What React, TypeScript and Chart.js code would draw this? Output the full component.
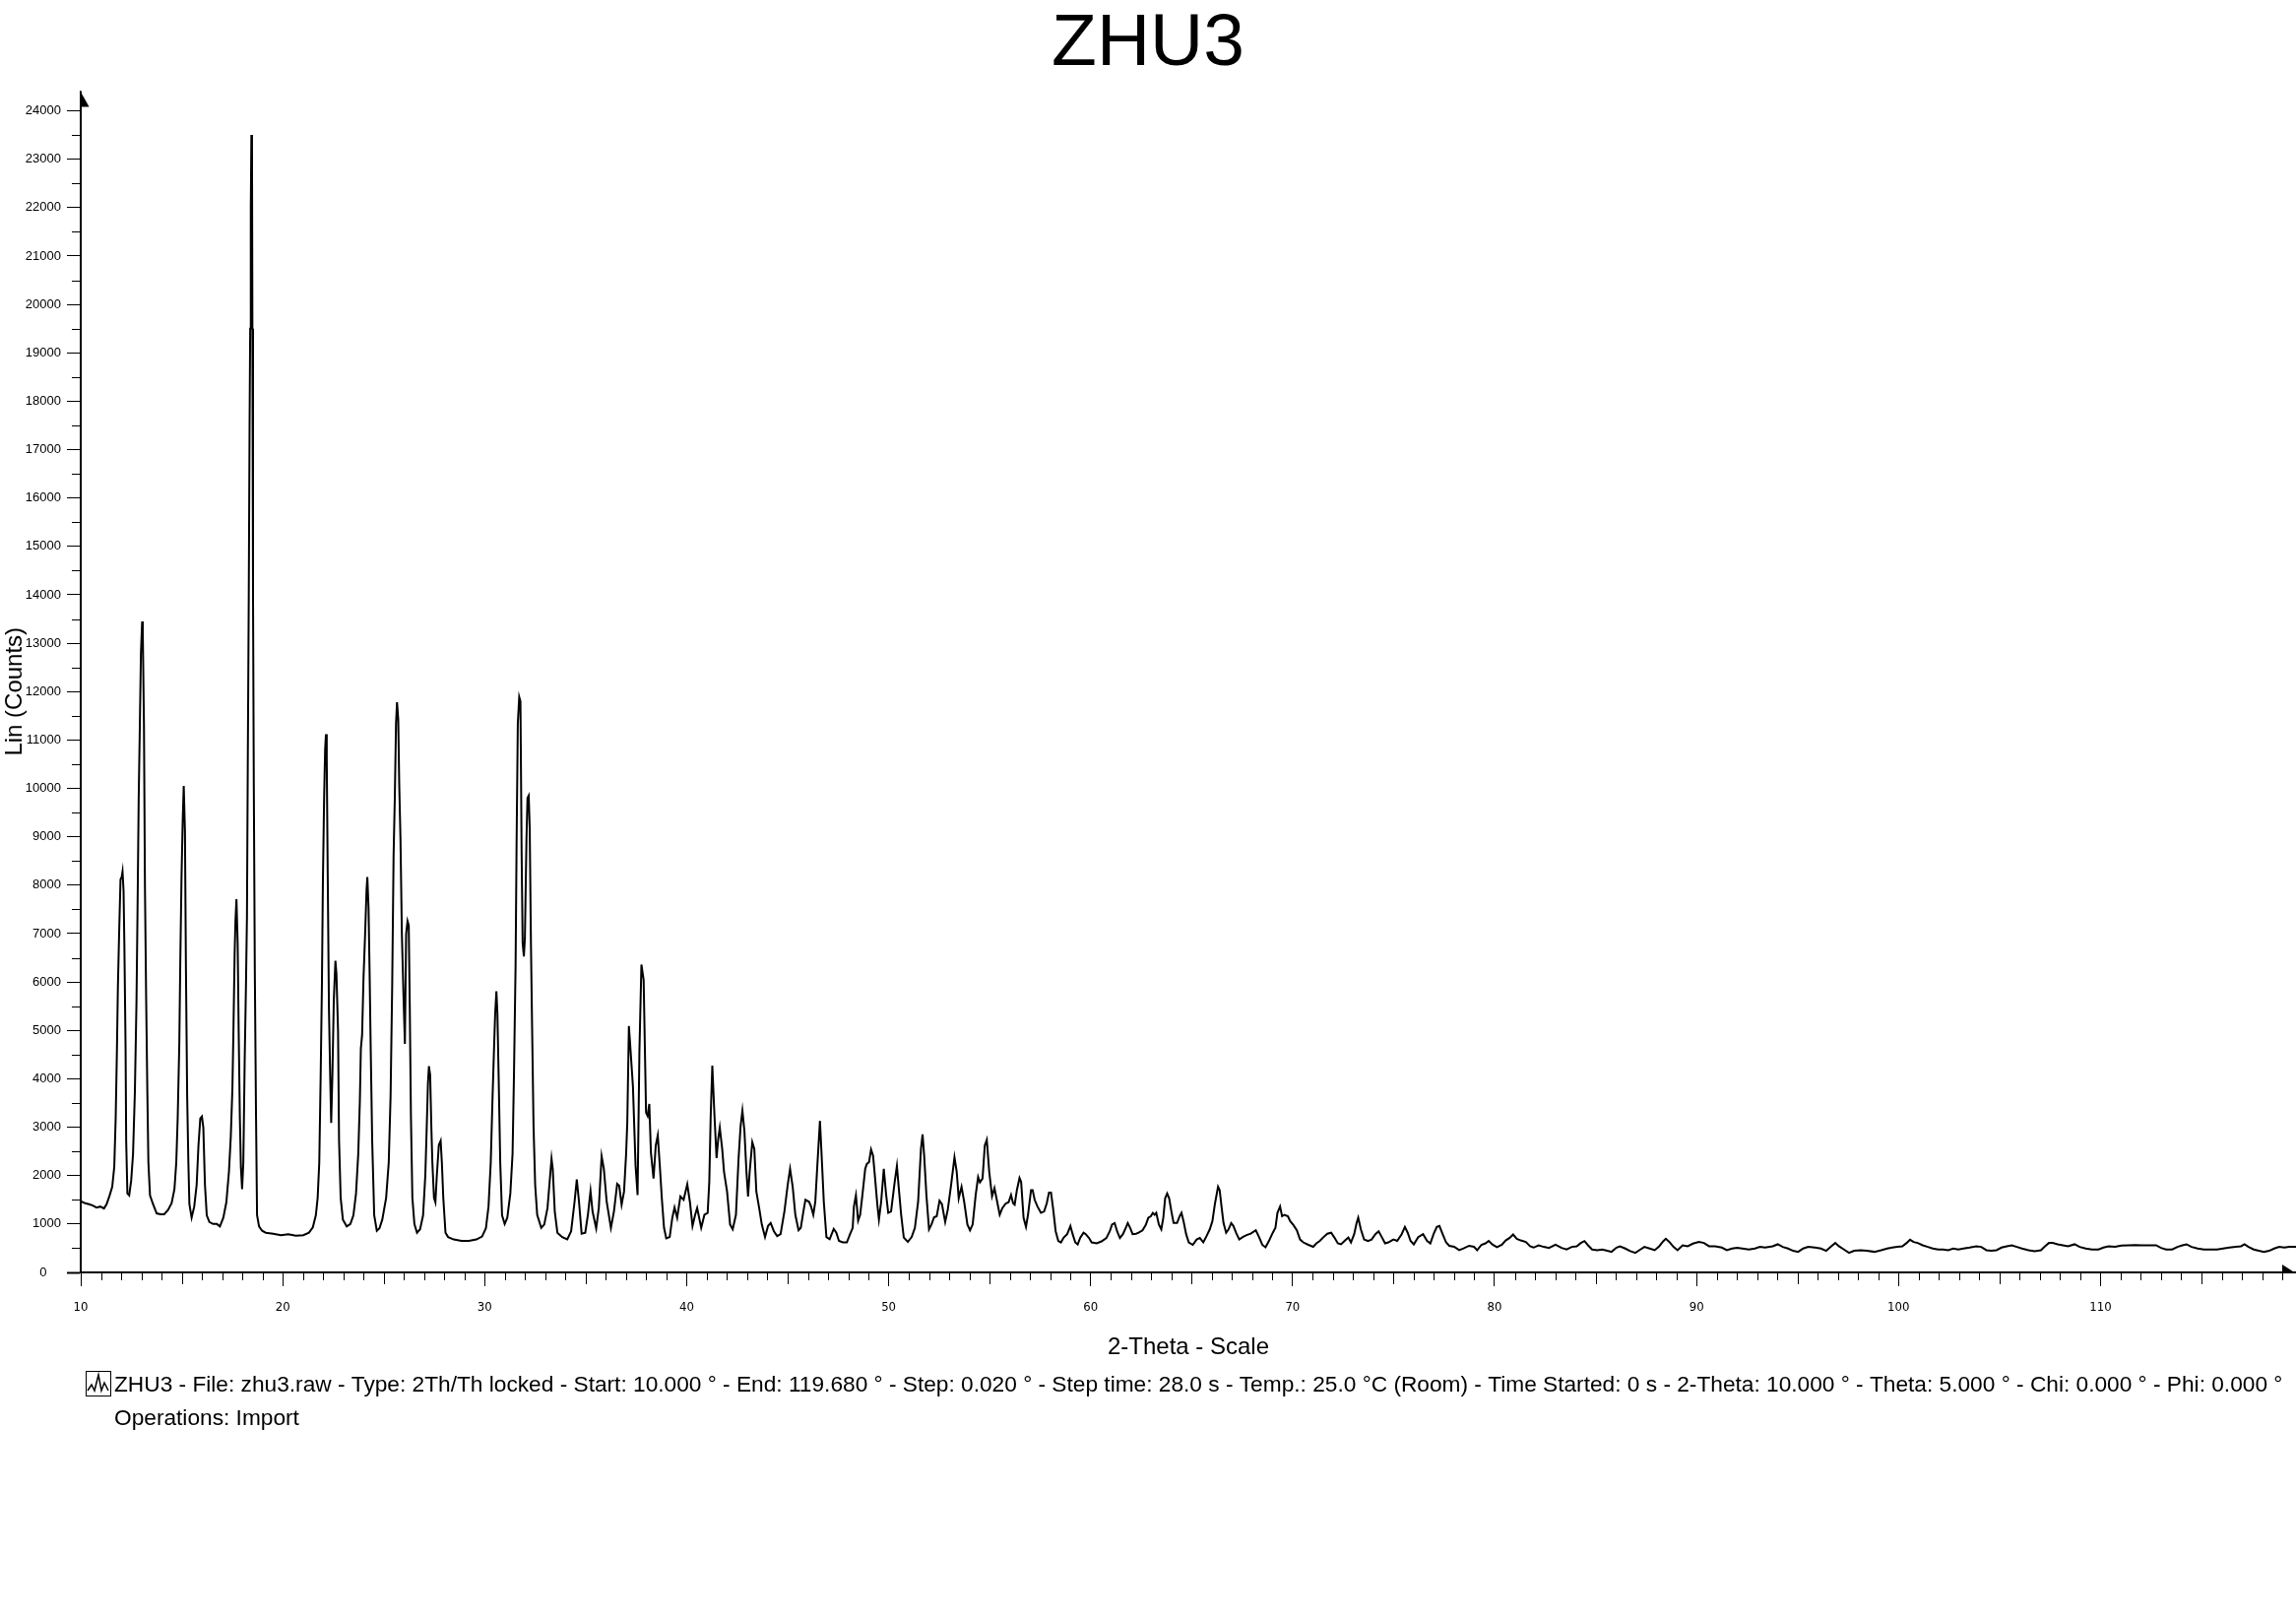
import React, { useEffect, useRef } from 'react';
import { Chart, registerables } from 'chart.js';

Chart.register(...registerables);

// ---------- text ----------
const titleText = 'ZHU3';
const xTitle = '2-Theta - Scale';
const yTitle = 'Lin (Counts)';
const legendLine1 =
  'ZHU3 - File: zhu3.raw - Type: 2Th/Th locked - Start: 10.000 ° - End: 119.680 ° - Step: 0.020 ° - Step time: 28.0 s - Temp.: 25.0 °C (Room) - Time Started: 0 s - 2-Theta: 10.000 ° - Theta: 5.000 ° - Chi: 0.000 ° - Phi: 0.000 °';
const legendLine2 = 'Operations: Import';

// ---------- axes ----------
const xMin = 10;
const xMax = 119.68;
const xMajorStep = 10;
const xMidStep = 5;
const xMinorStep = 1;
const yMin = 0;
const yMax = 24000;
const yMajorStep = 1000;
const yMinorStep = 500;

// ---------- data (2-theta in degrees, counts) ----------
const twoTheta = [
  10.0, 10.09, 10.22, 10.41, 10.6, 10.78, 10.97, 11.15, 11.28, 11.43, 11.56, 11.66, 11.73, 11.79, 11.84, 11.9, 11.97, 12.03, 12.07, 12.12,
  12.16, 12.22, 12.25, 12.31, 12.4, 12.5, 12.59, 12.68, 12.76, 12.81, 12.87, 12.92, 12.98, 13.04, 13.07, 13.13, 13.18, 13.24, 13.3, 13.35,
  13.43, 13.58, 13.76, 13.95, 14.13, 14.32, 14.5, 14.64, 14.73, 14.8, 14.88, 14.93, 14.99, 15.05, 15.1, 15.16, 15.21, 15.27, 15.33, 15.38,
  15.49, 15.62, 15.74, 15.83, 15.92, 16.0, 16.07, 16.15, 16.24, 16.37, 16.55, 16.74, 16.89, 17.06, 17.21, 17.34, 17.43, 17.51, 17.56, 17.62,
  17.66, 17.71, 17.77, 17.82, 17.88, 17.93, 17.99, 18.05, 18.12, 18.18, 18.23, 18.27, 18.32, 18.36, 18.39, 18.42, 18.45, 18.48, 18.5, 18.53,
  18.57, 18.62, 18.68, 18.73, 18.83, 18.98, 19.16, 19.53, 19.91, 20.28, 20.65, 21.02, 21.3, 21.49, 21.64, 21.73, 21.81, 21.88, 21.94, 21.99,
  22.05, 22.1, 22.14, 22.18, 22.23, 22.29, 22.35, 22.4, 22.46, 22.53, 22.61, 22.66, 22.74, 22.79, 22.87, 22.98, 23.17, 23.35, 23.5, 23.63,
  23.74, 23.82, 23.87, 23.93, 24.0, 24.08, 24.15, 24.19, 24.25, 24.3, 24.36, 24.43, 24.53, 24.66, 24.79, 24.93, 25.12, 25.25, 25.34, 25.42,
  25.49, 25.55, 25.61, 25.66, 25.72, 25.77, 25.83, 25.9, 25.98, 26.05, 26.11, 26.18, 26.24, 26.29, 26.35, 26.42, 26.52, 26.65, 26.8, 26.95,
  27.06, 27.13, 27.19, 27.24, 27.3, 27.36, 27.41, 27.49, 27.56, 27.63, 27.73, 27.82, 27.88, 27.95, 28.06, 28.19, 28.47, 28.85, 29.22, 29.59,
  29.87, 30.06, 30.19, 30.3, 30.39, 30.47, 30.52, 30.58, 30.63, 30.69, 30.77, 30.86, 30.99, 31.12, 31.27, 31.38, 31.45, 31.53, 31.58, 31.64,
  31.71, 31.77, 31.83, 31.88, 31.94, 31.99, 32.07, 32.12, 32.18, 32.23, 32.29, 32.35, 32.42, 32.5, 32.6, 32.8, 32.95, 33.11, 33.31, 33.37,
  33.47, 33.6, 33.84, 34.09, 34.28, 34.45, 34.56, 34.67, 34.8, 34.98, 35.11, 35.24, 35.34, 35.52, 35.65, 35.79, 35.9, 36.04, 36.25, 36.4,
  36.56, 36.66, 36.78, 36.9, 37.0, 37.06, 37.14, 37.19, 37.34, 37.47, 37.57, 37.66, 37.76, 37.87, 37.99, 38.07, 38.15, 38.23, 38.36, 38.47,
  38.57, 38.67, 38.77, 38.88, 38.99, 39.16, 39.29, 39.4, 39.53, 39.69, 39.85, 40.03, 40.16, 40.29, 40.42, 40.52, 40.72, 40.88, 41.04, 41.12,
  41.19, 41.27, 41.37, 41.48, 41.56, 41.64, 41.76, 41.85, 42.0, 42.15, 42.28, 42.44, 42.57, 42.67, 42.76, 42.86, 42.96, 43.04, 43.12, 43.25,
  43.35, 43.45, 43.59, 43.72, 43.88, 44.03, 44.16, 44.32, 44.48, 44.65, 44.84, 45.0, 45.12, 45.25, 45.38, 45.54, 45.65, 45.78, 45.88, 46.06,
  46.16, 46.27, 46.37, 46.47, 46.6, 46.69, 46.79, 46.92, 47.08, 47.28, 47.41, 47.54, 47.73, 47.93, 48.09, 48.22, 48.28, 48.38, 48.49, 48.59,
  48.71, 48.84, 48.92, 49.03, 49.13, 49.23, 49.33, 49.44, 49.52, 49.63, 49.76, 49.87, 49.98, 50.12, 50.3, 50.41, 50.49, 50.62, 50.75, 50.95,
  51.14, 51.3, 51.46, 51.6, 51.68, 51.76, 51.87, 52.0, 52.12, 52.25, 52.38, 52.52, 52.64, 52.8, 52.93, 53.09, 53.26, 53.37, 53.47, 53.61,
  53.74, 53.9, 54.03, 54.16, 54.31, 54.43, 54.52, 54.65, 54.76, 54.86, 54.98, 55.12, 55.24, 55.34, 55.5, 55.63, 55.79, 55.94, 56.06, 56.16,
  56.24, 56.35, 56.48, 56.56, 56.68, 56.8, 56.9, 57.05, 57.13, 57.23, 57.37, 57.54, 57.7, 57.83, 57.94, 58.04, 58.14, 58.27, 58.4, 58.53,
  58.67, 58.84, 59.0, 59.11, 59.24, 59.36, 59.49, 59.65, 59.76, 59.92, 60.05, 60.3, 60.54, 60.78, 60.95, 61.06, 61.19, 61.32, 61.45, 61.6,
  61.73, 61.84, 61.97, 62.08, 62.25, 62.38, 62.57, 62.73, 62.86, 62.98, 63.08, 63.17, 63.25, 63.38, 63.5, 63.6, 63.69, 63.79, 63.89, 64.0,
  64.11, 64.28, 64.41, 64.5, 64.6, 64.73, 64.86, 65.06, 65.25, 65.41, 65.58, 65.74, 65.9, 66.03, 66.16, 66.31, 66.39, 66.49, 66.58, 66.71,
  66.83, 66.96, 67.07, 67.2, 67.36, 67.53, 67.72, 67.93, 68.18, 68.34, 68.5, 68.66, 68.83, 69.02, 69.15, 69.25, 69.38, 69.48, 69.6, 69.77,
  69.88, 70.04, 70.21, 70.37, 70.53, 70.78, 71.02, 71.18, 71.35, 71.51, 71.72, 71.91, 72.07, 72.24, 72.4, 72.6, 72.76, 72.89, 73.05, 73.17,
  73.25, 73.38, 73.54, 73.73, 73.91, 74.1, 74.26, 74.39, 74.58, 74.74, 74.99, 75.18, 75.4, 75.56, 75.7, 75.84, 76.0, 76.22, 76.46, 76.66,
  76.82, 76.98, 77.14, 77.27, 77.43, 77.6, 77.76, 78.0, 78.25, 78.49, 78.74, 78.98, 79.14, 79.35, 79.55, 79.71, 79.91, 80.12, 80.36, 80.55,
  80.75, 80.92, 81.1, 81.3, 81.55, 81.76, 81.93, 82.18, 82.44, 82.69, 83.02, 83.32, 83.57, 83.82, 84.07, 84.27, 84.45, 84.63, 84.83, 85.08,
  85.33, 85.58, 85.79, 86.04, 86.21, 86.47, 86.72, 86.97, 87.22, 87.42, 87.68, 87.93, 88.15, 88.36, 88.48, 88.66, 88.86, 89.06, 89.31, 89.56,
  89.82, 90.12, 90.37, 90.62, 90.92, 91.25, 91.5, 91.76, 92.01, 92.26, 92.59, 92.89, 93.14, 93.39, 93.77, 94.02, 94.27, 94.53, 94.78, 95.03,
  95.28, 95.53, 95.86, 96.16, 96.42, 96.67, 96.87, 97.05, 97.3, 97.55, 97.8, 98.13, 98.43, 98.81, 99.14, 99.44, 99.69, 99.94, 100.19, 100.4,
  100.57, 100.75, 100.95, 101.2, 101.45, 101.7, 101.96, 102.21, 102.46, 102.71, 102.96, 103.22, 103.52, 103.85, 104.1, 104.35, 104.6, 104.85, 105.1, 105.36,
  105.61, 105.86, 106.11, 106.44, 106.74, 107.05, 107.25, 107.45, 107.63, 107.88, 108.14, 108.39, 108.72, 108.97, 109.27, 109.58, 109.9, 110.15, 110.4, 110.72,
  111.03, 111.4, 111.73, 112.04, 112.42, 112.75, 113.0, 113.25, 113.55, 113.81, 114.06, 114.26, 114.51, 114.81, 115.12, 115.44, 115.77, 116.07, 116.38, 116.7,
  116.96, 117.13, 117.33, 117.59, 117.84, 118.09, 118.35, 118.6, 118.85, 119.1, 119.35, 119.68,
];

const counts = [
  1480, 1450, 1430, 1410, 1380, 1340, 1360, 1320, 1410, 1590, 1770, 2180, 3180, 4540, 5900, 6990, 8120, 8170, 8280, 7890,
  6800, 4670, 2720, 1630, 1590, 1910, 2450, 3720, 5580, 7400, 9800, 11120, 12790, 13450, 13300, 11340, 7940, 5630, 3670, 2270,
  1590, 1410, 1220, 1200, 1200, 1290, 1430, 1720, 2270, 3180, 4720, 6440, 8170, 9350, 10050, 9120, 6220, 3630, 2270, 1410,
  1130, 1360, 1810, 2630, 3180, 3220, 2990, 1810, 1180, 1040, 1000, 1000, 950, 1130, 1450, 2090, 2810, 3810, 4990, 6580,
  7260, 7710, 6800, 4990, 3180, 2180, 1720, 2270, 4450, 5900, 7350, 10440, 14000, 17500, 19500, 22000, 23500, 23200, 19500, 14000,
  10000, 6170, 3180, 1180, 950, 860, 820, 800, 770, 790, 760, 770, 820, 930, 1180, 1540, 2270, 4080, 5900, 8080,
  9800, 10800, 11120, 10620, 8170, 5440, 4080, 3090, 4080, 5630, 6440, 6170, 4990, 2720, 1540, 1090, 950, 1000, 1180, 1630,
  2450, 3540, 4630, 4900, 6080, 6990, 7890, 8170, 7530, 6260, 4540, 2720, 1180, 860, 910, 1090, 1540, 2270, 3630, 5900,
  8620, 9800, 11340, 11780, 11430, 10070, 8980, 6990, 5720, 4720, 6990, 7260, 7170, 5540, 3180, 1540, 1000, 820, 890, 1180,
  2000, 2990, 3900, 4260, 4080, 2990, 2270, 1540, 1450, 2000, 2630, 2720, 2270, 1540, 820, 730, 680, 650, 650, 680,
  740, 910, 1360, 2270, 3630, 4720, 5350, 5810, 5350, 4080, 2270, 1180, 1000, 1130, 1630, 2450, 4080, 6350, 8890, 11340,
  11890, 11800, 8620, 6800, 6530, 6900, 8980, 9800, 9850, 9170, 6800, 5000, 3000, 1800, 1190, 920, 990, 1330, 2350, 2140,
  1260, 820, 730, 685, 850, 1460, 1920, 1460, 800, 820, 1190, 1680, 1260, 910, 1330, 2400, 2140, 1460, 920, 1260,
  1830, 1790, 1400, 1670, 2430, 3090, 5090, 4790, 3840, 2210, 1600, 4550, 6360, 6040, 3300, 3230, 3480, 2480, 1940, 2620,
  2830, 2210, 1530, 920, 705, 730, 1130, 1340, 1130, 1570, 1500, 1820, 1460, 960, 1190, 1330, 920, 1190, 1230, 1870,
  3230, 4270, 3300, 2360, 2750, 2990, 2550, 2080, 1670, 990, 890, 1190, 2350, 3020, 3340, 2920, 2080, 1570, 2080, 2690,
  2550, 1670, 1330, 990, 730, 960, 1020, 850, 750, 790, 1260, 1800, 2140, 1770, 1190, 870, 920, 1260, 1500, 1460,
  1360, 1190, 1460, 2210, 3130, 2350, 1460, 730, 685, 900, 820, 650, 620, 620, 790, 920, 1360, 1590, 1070, 1190,
  1630, 2140, 2240, 2280, 2540, 2410, 1940, 1400, 1090, 1460, 2140, 1630, 1230, 1260, 1870, 2200, 1800, 1190, 720, 630,
  730, 920, 1460, 2550, 2850, 2410, 1600, 890, 990, 1140, 1160, 1480, 1410, 1040, 1300, 1800, 2380, 2080, 1530, 1770,
  1460, 990, 870, 990, 1600, 1970, 1860, 1940, 2620, 2740, 2080, 1570, 1740, 1530, 1190, 1330, 1420, 1450, 1600, 1430,
  1400, 1700, 1950, 1870, 1130, 940, 1190, 1700, 1700, 1500, 1360, 1230, 1260, 1430, 1650, 1650, 1330, 850, 650, 620,
  720, 790, 960, 790, 620, 580, 720, 820, 790, 710, 620, 600, 640, 710, 850, 990, 1020, 840, 710, 790,
  910, 1020, 910, 790, 800, 820, 870, 980, 1130, 1160, 1230, 1190, 1230, 990, 890, 1130, 1530, 1630, 1530, 1260,
  1020, 1020, 1160, 1230, 1060, 790, 620, 570, 680, 710, 620, 750, 890, 1060, 1430, 1770, 1700, 1330, 1020, 820,
  890, 1020, 960, 820, 680, 730, 770, 800, 870, 730, 570, 520, 650, 820, 920, 1230, 1360, 1160, 1190, 1160,
  1060, 980, 870, 680, 620, 570, 530, 600, 650, 720, 800, 820, 720, 600, 580, 660, 720, 620, 790, 1020,
  1130, 890, 680, 650, 680, 790, 850, 750, 600, 620, 680, 650, 790, 940, 820, 650, 580, 730, 790, 650,
  600, 790, 940, 960, 790, 620, 550, 530, 460, 500, 550, 530, 460, 570, 600, 650, 570, 520, 570, 660,
  715, 783, 695, 660, 628, 540, 513, 560, 527, 506, 574, 506, 473, 527, 540, 608, 648, 560, 473, 459,
  473, 446, 425, 513, 540, 493, 439, 405, 473, 527, 493, 459, 540, 648, 695, 628, 527, 459, 560, 540,
  594, 628, 608, 540, 540, 513, 459, 493, 506, 493, 473, 493, 527, 513, 540, 581, 527, 493, 446, 425,
  493, 527, 513, 493, 446, 540, 608, 540, 473, 405, 446, 459, 446, 425, 459, 493, 513, 527, 540, 608,
  675, 628, 608, 560, 527, 493, 473, 473, 459, 493, 473, 493, 513, 540, 527, 459, 446, 459, 513, 540,
  560, 527, 493, 459, 439, 459, 540, 608, 608, 581, 560, 540, 581, 527, 493, 473, 473, 513, 540, 527,
  554, 560, 567, 560, 560, 560, 506, 473, 473, 527, 560, 581, 527, 493, 473, 473, 473, 493, 513, 527,
  540, 581, 527, 473, 446, 425, 446, 493, 527, 513, 527, 527,
];

const FONT = "'Liberation Sans', Arial, Helvetica, sans-serif";
const NARROW = "'Liberation Sans Narrow', 'DejaVu Sans Condensed', 'Liberation Sans', sans-serif";

const decorPlugin = {
  id: 'decor',
  afterDraw(chart: any) {
    const { ctx, chartArea: ca, scales } = chart;
    const xs = scales.x;
    const ys = scales.y;
    ctx.save();
    ctx.strokeStyle = '#000';
    ctx.fillStyle = '#000';
    ctx.lineWidth = 1;
    ctx.beginPath();
    // x minor / mid ticks
    for (let v = xMin + xMinorStep; v <= xMax; v += xMinorStep) {
      const r = Math.round(v);
      if (r % xMajorStep === 0) continue;
      const px = Math.round(xs.getPixelForValue(r)) + 0.5;
      const len = r % xMidStep === 0 ? 12 : 8;
      ctx.moveTo(px, ca.bottom);
      ctx.lineTo(px, ca.bottom + len);
    }
    // y minor ticks
    for (let v = yMinorStep; v < yMax; v += yMajorStep) {
      const py = Math.round(ys.getPixelForValue(v)) + 0.5;
      ctx.moveTo(ca.left - 9, py);
      ctx.lineTo(ca.left, py);
    }
    ctx.stroke();

    // y axis extension + arrow
    ctx.lineWidth = 2;
    ctx.beginPath();
    ctx.moveTo(ca.left, ca.top);
    ctx.lineTo(ca.left, ca.top - 20);
    ctx.stroke();
    ctx.beginPath();
    ctx.moveTo(ca.left - 1, ca.top - 21);
    ctx.lineTo(ca.left + 8.5, ca.top - 4);
    ctx.lineTo(ca.left - 1, ca.top - 4);
    ctx.closePath();
    ctx.fill();

    // x axis arrow
    ctx.beginPath();
    ctx.moveTo(ca.right - 14, ca.bottom - 8);
    ctx.lineTo(ca.right, ca.bottom + 1);
    ctx.lineTo(ca.right - 14, ca.bottom + 1);
    ctx.closePath();
    ctx.fill();

    // legend icon
    const ix = 87;
    const iy = 1392;
    const isz = 25;
    ctx.lineWidth = 1;
    ctx.strokeRect(ix + 0.5, iy + 0.5, isz, isz);
    ctx.lineWidth = 1.5;
    ctx.beginPath();
    ctx.moveTo(ix + 2, iy + 20);
    ctx.lineTo(ix + 6, iy + 14);
    ctx.lineTo(ix + 9, iy + 20);
    ctx.lineTo(ix + 13, iy + 4);
    ctx.lineTo(ix + 16, iy + 20);
    ctx.lineTo(ix + 19, iy + 12);
    ctx.lineTo(ix + 23, iy + 20);
    ctx.stroke();

    // legend text
    ctx.textBaseline = 'middle';
    ctx.textAlign = 'left';
    ctx.font = `22.7px ${FONT}`;
    ctx.fillText(legendLine1, 116, 1407);
    ctx.fillText(legendLine2, 116, 1441);
    ctx.restore();
  },
};

export default function App() {
  const canvasRef = useRef<HTMLCanvasElement | null>(null);

  useEffect(() => {
    const canvas = canvasRef.current;
    if (!canvas) return;
    const points = twoTheta.map((x, i) => ({ x, y: counts[i] }));
    const chart = new Chart(canvas, {
      type: 'line',
      data: {
        datasets: [
          {
            label: titleText,
            data: points,
            borderColor: '#000',
            borderWidth: 2,
            pointRadius: 0,
            fill: false,
            tension: 0,
          },
        ],
      },
      options: {
        animation: false,
        responsive: false,
        devicePixelRatio: 1,
        layout: { padding: { left: 0, right: 0, top: 0, bottom: 265 } },
        plugins: {
          legend: { display: false },
          tooltip: { enabled: false },
          title: {
            display: true,
            text: titleText,
            color: '#000',
            font: { family: FONT, size: 75, weight: 'normal', lineHeight: 1 },
            padding: { top: 8, bottom: 29.5 },
          },
        },
        scales: {
          x: {
            type: 'linear',
            min: xMin,
            max: xMax,
            afterFit: (s: any) => {
              s.height = 91;
            },
            ticks: {
              stepSize: xMajorStep,
              includeBounds: false,
              autoSkip: false,
              maxRotation: 0,
              padding: 14,
              color: '#000',
              font: { family: NARROW, size: 13 },
              callback: (v: any) => String(v),
            },
            grid: {
              display: true,
              drawOnChartArea: false,
              drawTicks: true,
              tickLength: 14,
              tickColor: '#000',
              tickWidth: 1,
            },
            border: { display: true, color: '#000', width: 2 },
            title: {
              display: true,
              text: xTitle,
              color: '#000',
              font: { family: FONT, size: 24 },
              padding: 0,
            },
          },
          y: {
            type: 'linear',
            min: yMin,
            max: yMax,
            afterFit: (s: any) => {
              s.width = 82;
            },
            ticks: {
              stepSize: yMajorStep,
              autoSkip: false,
              padding: 6,
              color: '#000',
              font: { family: FONT, size: 13 },
              callback: (v: any) => (v === 0 ? '0    ' : String(v)),
            },
            grid: {
              display: true,
              drawOnChartArea: false,
              drawTicks: true,
              tickLength: 14,
              tickColor: '#000',
              tickWidth: (c: any) => (c.tick && c.tick.value === 0 ? 2 : 1),
            },
            border: { display: true, color: '#000', width: 2 },
            title: {
              display: true,
              text: yTitle,
              color: '#000',
              font: { family: FONT, size: 24 },
              padding: { top: 1, bottom: 0 },
            },
          },
        },
      },
      plugins: [decorPlugin],
    });
    return () => chart.destroy();
  }, []);

  return (
    <div style={{ position: 'fixed', left: 0, top: 0, width: 2332, height: 1648, background: '#fff' }}>
      <canvas ref={canvasRef} width={2332} height={1648} style={{ display: 'block', width: 2332, height: 1648 }} />
    </div>
  );
}
